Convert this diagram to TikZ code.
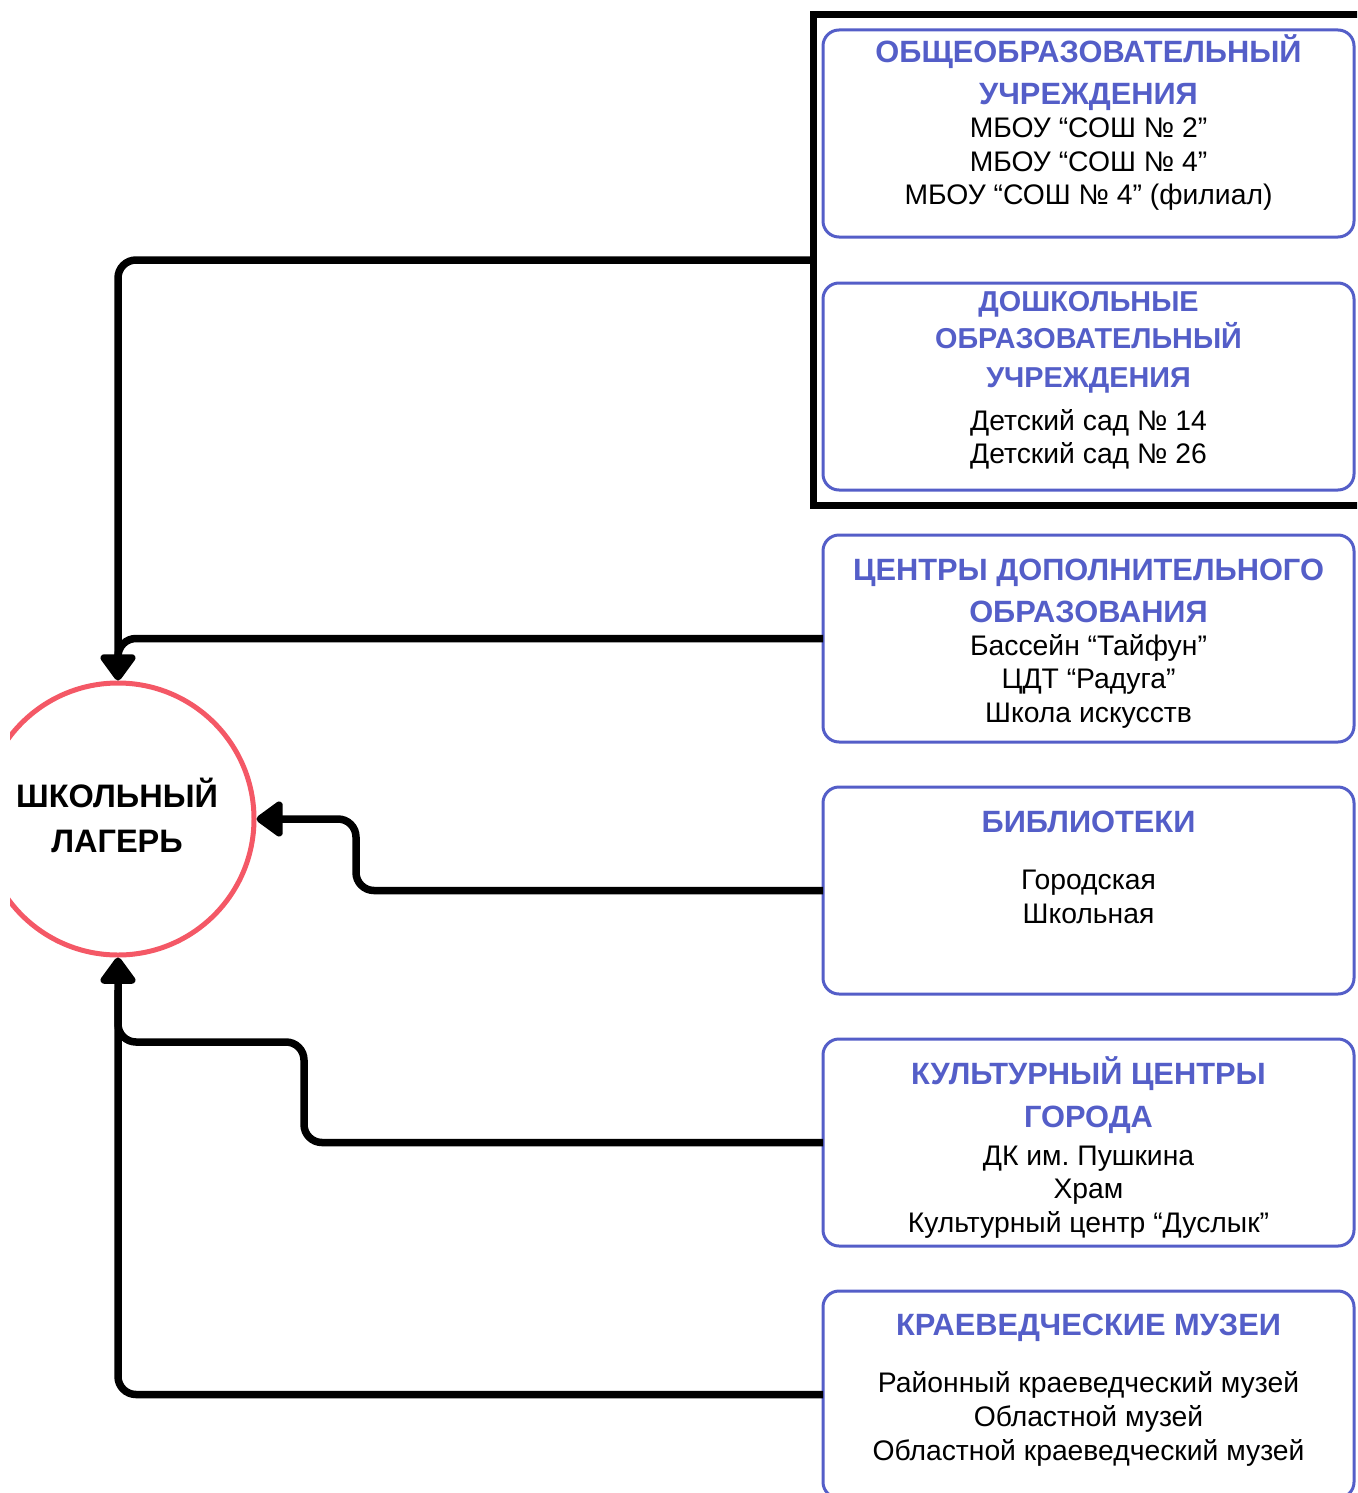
\documentclass[tikz,border=0pt]{standalone}
\usepackage{fontspec}
\setmainfont{Liberation Sans}
\usetikzlibrary{arrows.meta,calc}
\definecolor{bblue}{RGB}{84,94,200}
\definecolor{cred}{RGB}{244,88,102}
\newcommand\boxline[4]{\node[#1] (#2) at (1088.5,#3) {#4};}
\frenchspacing
\begin{document}
\begin{tikzpicture}[x=1pt,y=-1pt,
  box/.style={draw=bblue, line width=3pt, rounded corners=16pt, minimum width=531pt, minimum height=207pt, inner sep=0pt, outer sep=0pt, anchor=north west},
  ttl/.style={text=bblue, font=\fontsize{30.8}{36}\selectfont\bfseries, inner sep=0pt, anchor=base},
  ttlsmall/.style={ttl, font=\fontsize{28.8}{34}\selectfont\bfseries},
  txt/.style={font=\fontsize{28.3}{33}\selectfont, inner sep=0pt, anchor=base},
  conn/.style={line width=7.5pt, rounded corners=18pt},
  tipped/.style={-{Triangle[length=29pt,width=40pt,round]}}
]
\useasboundingbox (0,0) rectangle (1357,1493);
\clip (0,0) rectangle (1357,1493);

% outer frame
\node[draw, line width=7pt, minimum width=600pt, minimum height=490pt, inner sep=0pt, outer sep=0pt, anchor=north west] (frame) at (813,15) {};

% boxes
\node[box] (b1) at (823,30) {};
\node[box] (b2) at (823,283) {};
\node[box] (b3) at (823,535) {};
\node[box] (b4) at (823,787) {};
\node[box] (b5) at (823,1039) {};
\node[box] (b6) at (823,1291) {};

% circle
\begin{scope}
\clip (10,0) rectangle (1357,1493);
\node[draw=cred, line width=5pt, circle, minimum size=272pt, inner sep=0pt] (circ) at (118,819) {};
\end{scope}
\node[font=\fontsize{32.5}{38}\selectfont\bfseries, inner sep=0pt, anchor=base] (c1) at (117,807) {ШКОЛЬНЫЙ};
\node[font=\fontsize{32.5}{38}\selectfont\bfseries, inner sep=0pt, anchor=base] (c2) at (117,852) {ЛАГЕРЬ};

% box texts
\boxline{ttl}{t11}{63}{ОБЩЕОБРАЗОВАТЕЛЬНЫЙ}
\boxline{ttl}{t12}{105}{УЧРЕЖДЕНИЯ}
\boxline{txt}{s11}{137}{МБОУ “СОШ № 2”}
\boxline{txt}{s12}{171}{МБОУ “СОШ № 4”}
\boxline{txt}{s13}{204}{МБОУ “СОШ № 4” (филиал)}

\boxline{ttlsmall}{t21}{311}{ДОШКОЛЬНЫЕ}
\boxline{ttlsmall}{t22}{348}{ОБРАЗОВАТЕЛЬНЫЙ}
\boxline{ttlsmall}{t23}{387}{УЧРЕЖДЕНИЯ}
\boxline{txt}{s21}{430}{Детский сад № 14}
\boxline{txt}{s22}{463}{Детский сад № 26}

\boxline{ttl}{t31}{580}{ЦЕНТРЫ ДОПОЛНИТЕЛЬНОГО}
\boxline{ttl}{t32}{622}{ОБРАЗОВАНИЯ}
\boxline{txt}{s31}{655}{Бассейн “Тайфун”}
\boxline{txt}{s32}{688}{ЦДТ “Радуга”}
\boxline{txt}{s33}{722}{Школа искусств}

\boxline{ttl}{t41}{832}{БИБЛИОТЕКИ}
\boxline{txt}{s41}{889}{Городская}
\boxline{txt}{s42}{923}{Школьная}

\boxline{ttl}{t51}{1084}{КУЛЬТУРНЫЙ ЦЕНТРЫ}
\boxline{ttl}{t52}{1127}{ГОРОДА}
\boxline{txt}{s51}{1165}{ДК им. Пушкина}
\boxline{txt}{s52}{1198}{Храм}
\boxline{txt}{s53}{1232}{Культурный центр “Дуслык”}

\boxline{ttl}{t61}{1335}{КРАЕВЕДЧЕСКИЕ МУЗЕИ}
\boxline{txt}{s61}{1392}{Районный краеведческий музей}
\boxline{txt}{s62}{1426}{Областной музей}
\boxline{txt}{s63}{1460}{Областной краеведческий музей}

% helper coordinates
\coordinate (j1) at (118,665);
\coordinate (k4) at (356,819);
\coordinate (k5) at (304,1042);
\coordinate (j2) at (118,990);

% connectors
\draw[conn] (b3.west) -| (j1);
\draw[conn,tipped] (frame.west) -| (circ.north);
\draw[conn,tipped] (b4.west) -| (k4) -- (circ.east);
\draw[conn] (b5.west) -| (k5) -| (j2);
\draw[conn,tipped] (b6.west) -| (circ.south);
\end{tikzpicture}
\end{document}
